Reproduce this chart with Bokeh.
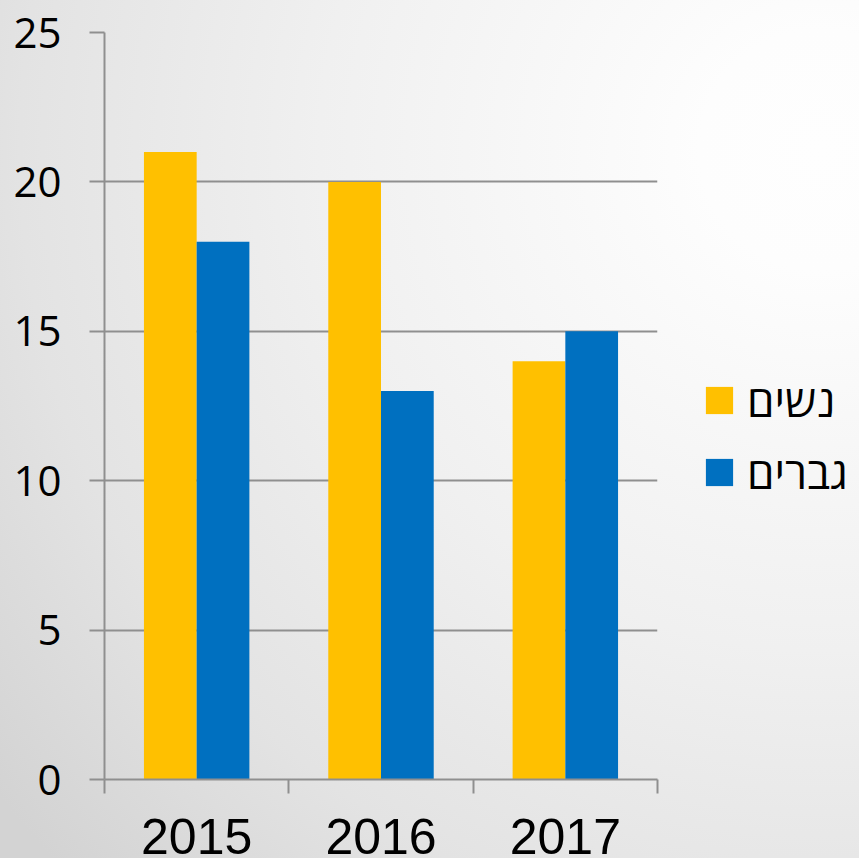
from bokeh.plotting import figure
from bokeh.models import (ColumnDataSource, Range1d, LinearAxis, FixedTicker, Legend, LegendItem)
from bokeh.transform import dodge
from bokeh.embed import file_html
from bokeh.resources import INLINE

years = ["2015", "2016", "2017"]
women = [21, 20, 14]
men = [18, 13, 15]
series_names = ["נשים", "גברים"]
colors = ["#FFC000", "#0070C0"]
y_ticks = [0, 5, 10, 15, 20, 25]

centers = [i + 0.5 for i in range(len(years))]
src = ColumnDataSource(dict(xc=centers, years=years, women=women, men=men))

p = figure(width=859, height=858, x_range=Range1d(0, len(years)),
           y_range=Range1d(0, 25), output_backend="svg", toolbar_location=None,
           x_axis_location=None, min_border_left=104, min_border_top=32,
           min_border_right=202, min_border_bottom=79)
p.frame_width = 553
p.frame_height = 747
p.background_fill_color = None
p.border_fill_color = None
p.outline_line_color = None
p.styles = {"background": "radial-gradient(circle at 820px 150px, #fefefe 0px, #fdfdfd 120px, "
                          "#f0f0f0 500px, #e3e3e3 800px, #d3d3d3 1045px)"}

grid_col = "#8f8f8f"

# y axis
yax = p.yaxis[0]
yax.ticker = FixedTicker(ticks=y_ticks)
yax.axis_line_color = grid_col
yax.axis_line_width = 2
yax.major_tick_line_color = grid_col
yax.major_tick_line_width = 2
yax.major_tick_out = 15
yax.major_tick_in = 0
yax.minor_tick_line_color = None
yax.major_label_text_font = "Open Sans"
yax.major_label_text_font_size = "42px"
yax.major_label_text_color = "#000000"
yax.major_label_standoff = 28

p.ygrid.ticker = FixedTicker(ticks=y_ticks)
p.ygrid.grid_line_color = grid_col
p.ygrid.grid_line_width = 2
p.xgrid.grid_line_color = None

# category separator ticks
sep_axis = LinearAxis(ticker=FixedTicker(ticks=list(range(len(years) + 1))))
sep_axis.axis_line_color = grid_col
sep_axis.axis_line_width = 2
sep_axis.major_tick_line_color = grid_col
sep_axis.major_tick_line_width = 2
sep_axis.major_tick_out = 14
sep_axis.major_tick_in = 0
sep_axis.minor_tick_line_color = None
sep_axis.major_label_text_font_size = "0px"
sep_axis.major_label_text_color = None
sep_axis.major_label_standoff = 0
p.add_layout(sep_axis, "below")

cat_axis = LinearAxis(ticker=FixedTicker(ticks=centers),
                      major_label_overrides={c: y for c, y in zip(centers, years)})
cat_axis.axis_line_color = None
cat_axis.major_tick_line_color = None
cat_axis.minor_tick_line_color = None
cat_axis.major_label_text_font = "Liberation Sans"
cat_axis.major_label_text_font_size = "50px"
cat_axis.major_label_text_color = "#000000"
cat_axis.major_label_standoff = 19
p.add_layout(cat_axis, "below")

bw = 0.286
r1 = p.vbar(x=dodge("xc", -bw / 2), top="women", width=bw, source=src,
            fill_color=colors[0], line_color=None)
r2 = p.vbar(x=dodge("xc", bw / 2), top="men", width=bw, source=src,
            fill_color=colors[1], line_color=None)

legend = Legend(items=[LegendItem(label=series_names[0], renderers=[r1]),
                       LegendItem(label=series_names[1], renderers=[r2])],
                location=(45, 277))
legend.background_fill_color = None
legend.background_fill_alpha = 0
legend.border_line_color = None
legend.padding = 0
legend.margin = 0
legend.glyph_width = 34
legend.glyph_height = 34
legend.label_height = 34
legend.spacing = 12
legend.label_standoff = 11
legend.label_text_font = "Open Sans"
legend.label_text_font_size = "44px"
legend.label_text_color = "#000000"
p.add_layout(legend, "right")

open("out.html", "w").write(file_html(p, INLINE))
